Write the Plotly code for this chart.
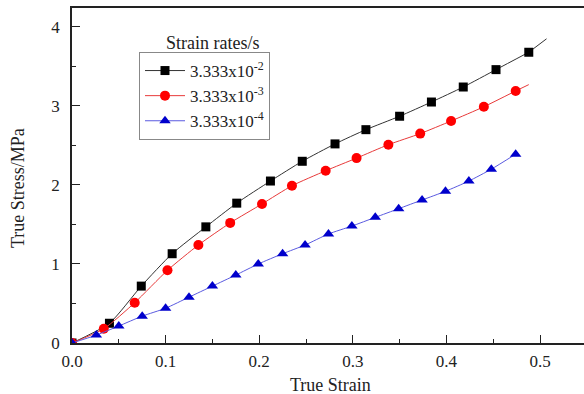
import plotly.graph_objects as go

# Strain rate 3.333e-2 (black squares)
sq_x = [0.0, 0.040, 0.074, 0.107, 0.143, 0.176, 0.212, 0.246, 0.281, 0.314, 0.350, 0.384, 0.418, 0.453, 0.488]
sq_y = [0.0, 0.25, 0.72, 1.13, 1.47, 1.77, 2.05, 2.30, 2.52, 2.70, 2.87, 3.05, 3.24, 3.46, 3.68]
sq_end_x = [0.488, 0.507]
sq_end_y = [3.68, 3.85]

# Strain rate 3.333e-3 (red circles)
ci_x = [0.0, 0.034, 0.067, 0.102, 0.135, 0.169, 0.203, 0.235, 0.271, 0.304, 0.338, 0.372, 0.405, 0.440, 0.474]
ci_y = [0.0, 0.18, 0.51, 0.92, 1.24, 1.52, 1.76, 1.99, 2.18, 2.34, 2.51, 2.65, 2.81, 2.99, 3.19]
ci_end_x = [0.474, 0.488]
ci_end_y = [3.19, 3.27]

# Strain rate 3.333e-4 (blue triangles)
tr_x = [0.0, 0.026, 0.050, 0.075, 0.100, 0.125, 0.150, 0.175, 0.199, 0.225, 0.249, 0.274, 0.299, 0.324, 0.349, 0.374, 0.399, 0.424, 0.448, 0.474]
tr_y = [0.0, 0.10, 0.215, 0.34, 0.44, 0.58, 0.72, 0.86, 1.00, 1.13, 1.24, 1.38, 1.48, 1.59, 1.70, 1.81, 1.92, 2.05, 2.20, 2.39]

names = ["3.333x10<sup>-2</sup>", "3.333x10<sup>-3</sup>", "3.333x10<sup>-4</sup>"]
legend_title = "Strain rates/s"
x_title = "True Strain"
y_title = "True Stress/MPa"

FONT = "Liberation Serif"
TXT = "#222222"

fig = go.Figure()
fig.add_trace(go.Scatter(x=sq_end_x, y=sq_end_y, mode="lines", line=dict(color="#333333", width=1),
                         showlegend=False, hoverinfo="skip"))
fig.add_trace(go.Scatter(x=ci_end_x, y=ci_end_y, mode="lines", line=dict(color="#e83a3a", width=1),
                         showlegend=False, hoverinfo="skip"))
fig.add_trace(go.Scatter(x=sq_x, y=sq_y, mode="lines+markers", name=names[0],
                         line=dict(color="#333333", width=1, shape="spline", smoothing=0.6),
                         marker=dict(symbol="square", size=9, color="black")))
fig.add_trace(go.Scatter(x=ci_x, y=ci_y, mode="lines+markers", name=names[1],
                         line=dict(color="#e83a3a", width=1, shape="spline", smoothing=0.6),
                         marker=dict(symbol="circle", size=10, color="#ff0000")))
fig.add_trace(go.Scatter(x=tr_x, y=tr_y, mode="lines+markers", name=names[2],
                         line=dict(color="#5a5ae0", width=1, shape="spline", smoothing=0.6),
                         marker=dict(symbol="triangle-up", size=10, color="#0000cc")))

axis_common = dict(
    showgrid=False, zeroline=False, showline=True, linecolor=TXT, linewidth=1.5,
    ticks="inside", ticklen=8, tickwidth=1.2, tickcolor=TXT,
    tickfont=dict(family=FONT, size=17, color=TXT),
)

fig.update_xaxes(**axis_common, range=[0, 0.547], tickvals=[0, 0.1, 0.2, 0.3, 0.4, 0.5],
                 ticktext=["0.0", "0.1", "0.2", "0.3", "0.4", "0.5"], mirror=True,
                 minor=dict(ticks="inside", ticklen=4, dtick=0.05, tick0=0, tickcolor=TXT, tickwidth=1),
                 ticklabelstandoff=2)
fig.update_yaxes(**axis_common, range=[0, 4.24], tickvals=[0, 1, 2, 3, 4],
                 minor=dict(ticks="inside", ticklen=4, dtick=0.5, tick0=0, tickcolor=TXT, tickwidth=1),
                 ticklabelstandoff=7)

W, H, L, T, B = 584, 394, 72, 8, 343


def px_to_paper(px, py):
    return (px - L) / (W - L), (B - py) / (B - T)


ax, ay = px_to_paper(212, 43)
fig.add_annotation(xref="paper", yref="paper", x=ax, y=ay, xanchor="center", yanchor="middle",
                   text=legend_title, showarrow=False, font=dict(family=FONT, size=18, color=TXT))
ax, ay = px_to_paper(330, 385)
fig.add_annotation(xref="paper", yref="paper", x=ax, y=ay, xanchor="center", yanchor="middle",
                   text=x_title, showarrow=False, font=dict(family=FONT, size=18, color=TXT))
ax, ay = px_to_paper(18, 188)
fig.add_annotation(xref="paper", yref="paper", x=ax, y=ay, xanchor="center", yanchor="middle",
                   text=y_title, showarrow=False, textangle=-90, font=dict(family=FONT, size=18, color=TXT))

fig.update_layout(
    width=W, height=H,
    margin=dict(l=L, r=0, t=T, b=H - B),
    paper_bgcolor="white", plot_bgcolor="white",
    legend=dict(x=(139 - L) / (W - L), y=(B - 52) / (B - T), xanchor="left", yanchor="top",
                bordercolor="#888888", borderwidth=1, bgcolor="white",
                font=dict(family=FONT, size=17, color=TXT),
                traceorder="normal", tracegroupgap=0, itemwidth=40),
)

fig.write_html("out.html")
